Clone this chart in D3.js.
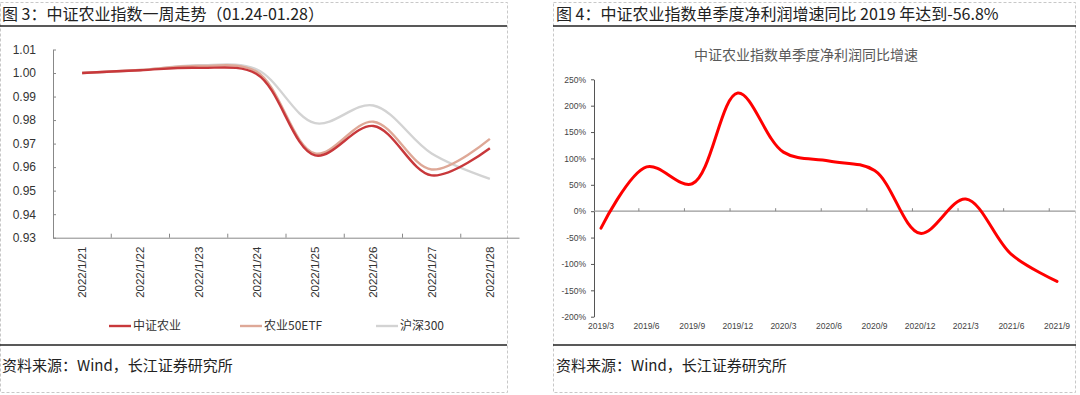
<!DOCTYPE html>
<html>
<head>
<meta charset="utf-8">
<script src="https://cdn.jsdelivr.net/npm/d3@7"></script>
<style>
  body { margin: 0; background: #fff; }
  svg { display: block; font-family: "Liberation Sans", "Noto Sans CJK SC", sans-serif; }
</style>
</head>
<body>
<svg id="vis" width="1080" height="395"></svg>
<script>
// left chart: one week of the index
var dates = ["2022/1/21", "2022/1/22", "2022/1/23", "2022/1/24", "2022/1/25", "2022/1/26", "2022/1/27", "2022/1/28"];
var seriesNames = ["中证农业", "农业50ETF", "沪深300"];
var agriIndex = [1.000, 1.0012, 1.0022, 0.9995, 0.9650, 0.9775, 0.9565, 0.9680];
var agriEtf = [1.000, 1.0013, 1.0030, 1.0005, 0.9658, 0.9793, 0.9590, 0.9720];
var hs300 = [1.000, 1.0013, 1.0033, 1.0015, 0.9787, 0.9862, 0.9658, 0.9550];
var leftTicks = [0.93, 0.94, 0.95, 0.96, 0.97, 0.98, 0.99, 1.00, 1.01];

// right chart: quarterly net profit growth (%)
var quarters = ["2019/3", "2019/6", "2019/9", "2019/12", "2020/3", "2020/6", "2020/9", "2020/12", "2021/3", "2021/6", "2021/9"];
var growth = [-32, 84, 52, 224, 112, 95, 77, -42, 23, -82, -133];
var rightTicks = [-200, -150, -100, -50, 0, 50, 100, 150, 200, 250];

var colors = ["#c8383b", "#dea897", "#d3d3d3"];

var svg = d3.select("#vis");

// frame: dashed borders
var frame = svg.append("g")
    .attr("fill", "none")
    .attr("stroke", "#c8c8c8")
    .attr("stroke-dasharray", "3,2");
frame.append("rect").attr("x", 0.5).attr("y", 2.5).attr("width", 507).attr("height", 390);
frame.append("rect").attr("x", 553.5).attr("y", 2.5).attr("width", 522).attr("height", 390);

// headings + rules
function panelText(x, title, src) {
    svg.append("text")
        .attr("x", x).attr("y", 20)
        .style("font", "16px 'Noto Sans CJK SC'")
        .attr("fill", "#222")
        .text(title);
    svg.append("text")
        .attr("x", x).attr("y", 371)
        .style("font", "15px 'Noto Sans CJK SC'")
        .attr("fill", "#222")
        .text(src);
}
panelText(2, "图 3：中证农业指数一周走势（01.24-01.28）", "资料来源：Wind，长江证券研究所");
panelText(556, "图 4：中证农业指数单季度净利润增速同比 2019 年达到-56.8%", "资料来源：Wind，长江证券研究所");

[[0, 507], [553, 1076]].forEach(function(r) {
    [26, 345].forEach(function(y) {
        svg.append("line")
            .attr("x1", r[0]).attr("x2", r[1])
            .attr("y1", y).attr("y2", y)
            .attr("stroke", "#222")
            .attr("stroke-width", 1.5);
    });
});

// ---------- left chart ----------
var x1 = d3.scaleBand().domain(dates).range([53, 519]);
var y1 = d3.scaleLinear().domain([0.93, 1.01]).range([237.7, 49.5]);

var gl = svg.append("g");

gl.append("g")
    .attr("transform", "translate(53,0)")
    .call(d3.axisLeft(y1).tickValues(leftTicks).tickSizeInner(-3).tickSizeOuter(0).tickPadding(17).tickFormat(d3.format(".2f")))
    .call(function(g) {
        g.select(".domain").attr("stroke", "#888");
        g.selectAll(".tick line").attr("stroke", "#888");
        g.selectAll("text").style("font-size", "12px").attr("fill", "#333");
    });

var xAxis1 = gl.append("g")
    .attr("transform", "translate(0,237.7)")
    .call(d3.axisBottom(x1).tickSize(0).tickSizeOuter(0).tickFormat(""));
xAxis1.select(".domain").attr("stroke", "#888");
// ticks between categories
xAxis1.selectAll(".bnd")
    .data(dates.slice(1))
    .enter().append("line")
    .attr("x1", function(d) { return x1(d); })
    .attr("x2", function(d) { return x1(d); })
    .attr("y1", 0).attr("y2", -4)
    .attr("stroke", "#888");
xAxis1.selectAll(".lbl")
    .data(dates)
    .enter().append("text")
    .attr("transform", function(d) { return "translate(" + (x1(d) + x1.bandwidth() / 2 + 4) + ",9) rotate(-90)"; })
    .attr("text-anchor", "end")
    .style("font-size", "11.5px")
    .attr("fill", "#333")
    .text(function(d) { return d; });

var line1 = d3.line()
    .x(function(d, i) { return x1(dates[i]) + x1.bandwidth() / 2; })
    .y(function(d) { return y1(d); })
    .curve(d3.curveCatmullRom.alpha(0.5));

// draw gray first so red sits on top
[[hs300, 2], [agriEtf, 1], [agriIndex, 0]].forEach(function(s) {
    gl.append("path")
        .attr("d", line1(s[0]))
        .attr("fill", "none")
        .attr("stroke", colors[s[1]])
        .attr("stroke-width", 2.4);
});

// legend
var legX = [109, 240, 376];
var legend = gl.selectAll(".legend")
    .data(seriesNames)
    .enter().append("g")
    .attr("transform", function(d, i) { return "translate(" + legX[i] + ",326)"; });
legend.append("line")
    .attr("x1", 0).attr("x2", 22)
    .attr("stroke", function(d, i) { return colors[i]; })
    .attr("stroke-width", 2.4);
legend.append("text")
    .attr("x", 24).attr("dy", "0.35em")
    .style("font", "12px 'Noto Sans CJK SC'")
    .attr("fill", "#333")
    .text(function(d) { return d; });

// ---------- right chart ----------
var x2 = d3.scalePoint().domain(quarters).range([601, 1057]);
var y2 = d3.scaleLinear().domain([-200, 250]).range([316.7, 79.3]);
var gr = svg.append("g");

gr.append("text")
    .attr("x", 806).attr("y", 60)
    .attr("text-anchor", "middle")
    .style("font", "14px 'Noto Sans CJK SC'")
    .attr("fill", "#595959")
    .text("中证农业指数单季度净利润同比增速");

gr.append("g")
    .attr("transform", "translate(594,0)")
    .call(d3.axisLeft(y2).tickValues(rightTicks).tickSizeInner(3).tickSizeOuter(0).tickPadding(5).tickFormat(function(d) { return d + "%"; }))
    .call(function(g) {
        g.select(".domain").attr("stroke", "#555");
        g.selectAll(".tick line").attr("stroke", "#555");
        g.selectAll("text").style("font-size", "8.5px").attr("fill", "#444");
    });

// zero line with small ticks
var step = x2.step();
gr.append("line")
    .attr("x1", 594).attr("x2", 1075)
    .attr("y1", y2(0)).attr("y2", y2(0))
    .attr("stroke", "#999").attr("stroke-width", 1.2);
gr.selectAll(".qt")
    .data(quarters.slice(0, -1))
    .enter().append("line")
    .attr("x1", function(d) { return x2(d) + step * 0.83; })
    .attr("x2", function(d) { return x2(d) + step * 0.83; })
    .attr("y1", y2(0)).attr("y2", y2(0) - 3)
    .attr("stroke", "#888");

gr.selectAll(".ql")
    .data(quarters)
    .enter().append("text")
    .attr("x", function(d) { return x2(d); })
    .attr("y", 329)
    .attr("text-anchor", "middle")
    .style("font-size", "8.5px")
    .attr("fill", "#444")
    .text(function(d) { return d; });

var line2 = d3.line()
    .x(function(d, i) { return x2(quarters[i]); })
    .y(function(d) { return y2(d); })
    .curve(d3.curveCatmullRom.alpha(0.5));

gr.append("path")
    .attr("d", line2(growth))
    .attr("fill", "none")
    .attr("stroke", "#ff0000")
    .attr("stroke-width", 3)
    .attr("stroke-linecap", "round");
</script>
</body>
</html>
